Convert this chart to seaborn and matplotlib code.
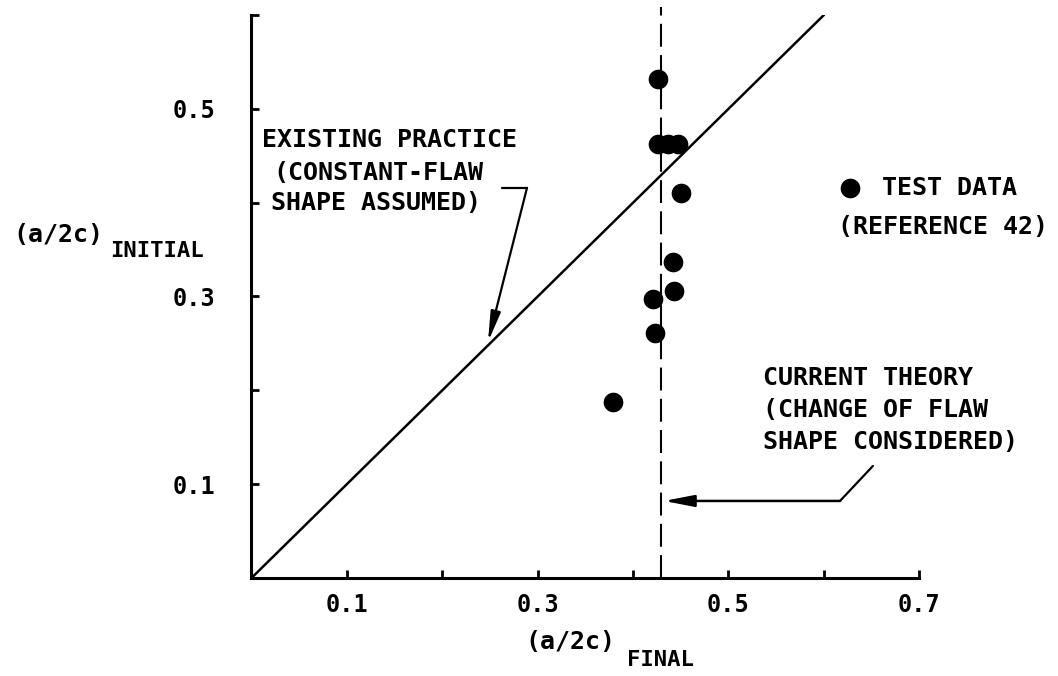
import matplotlib
matplotlib.use("Agg")
import matplotlib.pyplot as plt
import seaborn as sns
import pandas as pd

# Flaw shape ratios: final vs initial (test data)
final_ratio = [0.426, 0.426, 0.437, 0.447, 0.450, 0.442, 0.443, 0.421, 0.423, 0.379]
initial_ratio = [0.532, 0.462, 0.462, 0.462, 0.410, 0.337, 0.306, 0.297, 0.261, 0.188]

# Constant-flaw-shape assumption: initial == final
practice_x = [0.0, 0.6]
practice_y = [0.0, 0.6]

# Current theory: final shape converges to a single value
theory_final = 0.429
theory_span = [0.0, 0.609]

x_major = [0.1, 0.3, 0.5, 0.7]
x_minor = [0.2, 0.4, 0.6]
y_major = [0.1, 0.3, 0.5]
y_minor = [0.2, 0.4, 0.6]

sns.set_style("white")
plt.rcParams["font.family"] = ["DejaVu Sans Mono", "DejaVu Sans"]
plt.rcParams["font.weight"] = "bold"

fig = plt.figure(figsize=(10.58, 6.76), dpi=100)
ax = fig.add_axes([0.2377, 0.145, 0.6312, 0.8328])

df = pd.DataFrame({"final": final_ratio, "initial": initial_ratio})
line_df = pd.DataFrame({"x": practice_x, "y": practice_y})

sns.lineplot(data=line_df, x="x", y="y", color="black", lw=1.8, ax=ax, zorder=2)
ax.plot([theory_final, theory_final], theory_span, color="black", lw=1.5,
        dashes=(11, 4), clip_on=False, zorder=2)
sns.scatterplot(data=df, x="final", y="initial", s=200, color="black",
                edgecolor="black", linewidth=0, ax=ax, zorder=3)

ax.set_xlim(0, 0.7)
ax.set_ylim(0, 0.6)
ax.set_xlabel("")
ax.set_ylabel("")

for side in ["top", "right"]:
    ax.spines[side].set_visible(False)
for side in ["left", "bottom"]:
    ax.spines[side].set_linewidth(2.2)
    ax.spines[side].set_color("black")

ax.set_xticks(x_major)
ax.set_xticklabels([f"{v:.1f}" for v in x_major])
ax.set_xticks(x_minor, minor=True)
ax.set_yticks(y_major)
ax.set_yticklabels([f"{v:.1f}" for v in y_major])
ax.set_yticks(y_minor, minor=True)

ax.tick_params(axis="x", which="both", direction="in", length=6, width=2,
               pad=11, labelsize=17, bottom=True, colors="black")
ax.tick_params(axis="y", which="both", direction="in", length=6, width=2,
               pad=26, labelsize=17, left=True, colors="black")
for lab in ax.get_xticklabels() + ax.get_yticklabels():
    lab.set_fontweight("bold")

txt = dict(fontsize=18, fontweight="bold", va="center", ha="left", color="black")

# Existing practice annotation
ax.text(0.011, 0.467, "EXISTING PRACTICE", **txt)
ax.text(0.0225, 0.432, "(CONSTANT-FLAW", **txt)
ax.text(0.0204, 0.400, "SHAPE ASSUMED)", **txt)
ax.plot([0.2626, 0.2888], [0.4158, 0.4158], color="black", lw=1.6)
ax.annotate("", xy=(0.2479, 0.2516), xytext=(0.2888, 0.4158),
            arrowprops=dict(arrowstyle="-|>,head_length=1.8,head_width=0.3",
                            color="black", lw=1.6, shrinkA=0, shrinkB=0,
                            mutation_scale=10))

# Current theory annotation
ax.text(0.536, 0.2132, "CURRENT THEORY", **txt)
ax.text(0.536, 0.1791, "(CHANGE OF FLAW", **txt)
ax.text(0.536, 0.1450, "SHAPE CONSIDERED)", **txt)
ax.plot([0.6514, 0.6169], [0.1194, 0.0821], color="black", lw=1.6)
ax.annotate("", xy=(0.4324, 0.0821), xytext=(0.6169, 0.0821),
            arrowprops=dict(arrowstyle="-|>,head_length=1.8,head_width=0.35",
                            color="black", lw=1.8, shrinkA=0, shrinkB=0,
                            mutation_scale=10))

# Key for the test data
ax.scatter([0.6274], [0.4158], s=200, color="black", linewidth=0, clip_on=False)
ax.text(0.661, 0.4158, "TEST DATA", **txt)
ax.text(0.6148, 0.3742, "(REFERENCE 42)", **txt)

# Axis titles with subscripts
lab = dict(fontweight="bold", va="center", ha="left", color="black")
fig.text(0.0123, 0.6524, "(a/2c)", fontsize=18, **lab)
fig.text(0.104, 0.6287, "INITIAL", fontsize=16, **lab)
fig.text(0.4962, 0.0503, "(a/2c)", fontsize=18, **lab)
fig.text(0.5926, 0.0237, "FINAL", fontsize=16, **lab)

fig.savefig("out.png", dpi=100, facecolor="white")
